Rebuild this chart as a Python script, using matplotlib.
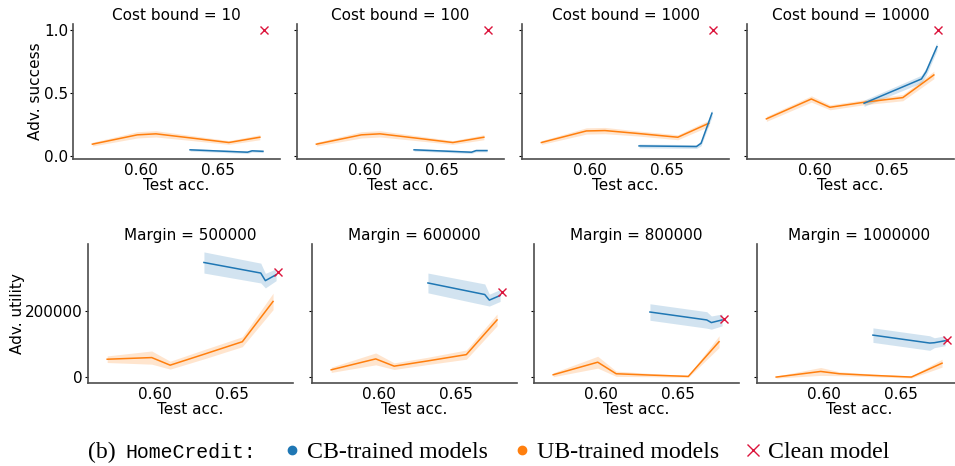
import numpy as np
import matplotlib
matplotlib.use("Agg")
import matplotlib.pyplot as plt
from matplotlib.lines import Line2D

# test accuracy of the models (x axis)
acc_ub = [0.569, 0.598, 0.610, 0.632, 0.657, 0.677]
acc_cb = [0.632, 0.669, 0.672, 0.679]
acc_clean = 0.680

# top row: adversarial success per cost bound
cost_bounds = [10, 100, 1000, 10000]
succ_ub = [[0.093, 0.167, 0.175, 0.143, 0.106, 0.148],
           [0.093, 0.167, 0.175, 0.143, 0.106, 0.148],
           [0.106, 0.198, 0.201, 0.177, 0.148, 0.259],
           [0.294, 0.452, 0.386, 0.426, 0.463, 0.643]]
succ_ub_err = [[0.015, 0.025, 0.025, 0.02, 0.015, 0.02],
               [0.015, 0.025, 0.025, 0.02, 0.015, 0.02],
               [0.015, 0.025, 0.025, 0.02, 0.02, 0.025],
               [0.02, 0.025, 0.02, 0.02, 0.025, 0.03]]
succ_cb = [[0.048, 0.029, 0.040, 0.036],
           [0.048, 0.029, 0.042, 0.042],
           [0.079, 0.074, 0.100, 0.339],
           [0.418, 0.611, 0.669, 0.868]]
succ_cb_err = [[0.01, 0.01, 0.01, 0.01],
               [0.01, 0.01, 0.01, 0.01],
               [0.015, 0.015, 0.02, 0.03],
               [0.025, 0.03, 0.03, 0.03]]
succ_clean = [1.0, 1.0, 1.0, 1.0]

# bottom row: adversarial utility per margin
margins = [500000, 600000, 800000, 1000000]
util_ub = [[54000, 59000, 36000, 69000, 107000, 229000],
           [22000, 55000, 33000, 49000, 68000, 173000],
           [7000, 45000, 10000, 6000, 2000, 107000],
           [0, 17000, 10000, 5000, 0, 42000]]
util_ub_err = [[10000, 20000, 12000, 14000, 15000, 25000],
               [8000, 18000, 10000, 11000, 14000, 18000],
               [6000, 18000, 8000, 5000, 3000, 18000],
               [3000, 12000, 6000, 4000, 3000, 12000]]
util_cb = [[347000, 315000, 292000, 310000],
           [285000, 250000, 233000, 247000],
           [197000, 173000, 165000, 173000],
           [127000, 103000, 104000, 110000]]
util_cb_err = [[32000, 30000, 22000, 18000],
               [30000, 32000, 18000, 18000],
               [25000, 25000, 20000, 18000],
               [22000, 22000, 15000, 15000]]
util_clean = [319000, 257000, 177000, 112000]

blue = '#1f77b4'
orange = '#ff7f0e'
red = '#dc143c'

plt.rcParams['font.family'] = 'DejaVu Sans'
plt.rcParams['font.size'] = 11

fig = plt.figure(figsize=(9.55, 4.66), dpi=100)


def draw(ax, ub, ub_err, cb, cb_err, clean):
    ub = np.array(ub); ub_err = np.array(ub_err)
    cb = np.array(cb); cb_err = np.array(cb_err)
    ax.fill_between(acc_ub, ub - ub_err, ub + ub_err, color=orange, alpha=0.2, lw=0)
    ax.plot(acc_ub, ub, color=orange, lw=1.1)
    ax.fill_between(acc_cb, cb - cb_err, cb + cb_err, color=blue, alpha=0.2, lw=0)
    ax.plot(acc_cb, cb, color=blue, lw=1.1)
    ax.plot([acc_clean], [clean], 'x', color=red, ms=5.5, mew=1.0)
    for s in ['top', 'right']:
        ax.spines[s].set_visible(False)
    for s in ['left', 'bottom']:
        ax.spines[s].set_color('0.3')
        ax.spines[s].set_linewidth(1.2)
    ax.set_xlim(0.5565, 0.690)
    ax.set_xticks([0.60, 0.65])
    ax.set_xticklabels(['0.60', '0.65'])
    ax.tick_params(axis='x', length=0, pad=3, labelsize=11)
    ax.tick_params(axis='y', length=2, width=0.8, pad=1.6, labelsize=11)
    ax.set_xlabel('Test acc.', fontsize=11, labelpad=0)


top_lefts = [73, 297, 522, 747]
bot_lefts = [88, 312, 534, 757]

for i in range(4):
    ax = fig.add_axes([top_lefts[i] / 955, 1 - 159 / 466, 207 / 955, 135 / 466])
    draw(ax, succ_ub[i], succ_ub_err[i], succ_cb[i], succ_cb_err[i], succ_clean[i])
    ax.set_ylim(-0.025, 1.048)
    ax.set_yticks([0.0, 0.5, 1.0])
    ax.set_title(f'Cost bound = {cost_bounds[i]}', fontsize=11, pad=3)
    if i == 0:
        ax.set_yticklabels(['0.0', '0.5', '1.0'])
        ax.set_ylabel('Adv. success', fontsize=11, labelpad=0.5)
    else:
        ax.set_yticklabels([])

for i in range(4):
    ax = fig.add_axes([bot_lefts[i] / 955, 1 - 383 / 466, 205 / 955, 139 / 466])
    draw(ax, util_ub[i], util_ub_err[i], util_cb[i], util_cb_err[i], util_clean[i])
    ax.set_ylim(-18000, 403000)
    ax.set_yticks([0, 200000])
    ax.set_title(f'Margin = {margins[i]}', fontsize=11, pad=3)
    if i == 0:
        ax.set_yticklabels(['0', '200000'])
        ax.set_ylabel('Adv. utility', fontsize=11, labelpad=0.5)
    else:
        ax.set_yticklabels([])

# caption-style legend
fig.text(88 / 955, 1 - 452 / 466, '(b)', family='Liberation Serif', fontsize=17, va='center')
fig.text(125 / 955, 1 - 452 / 466, 'HomeCredit:', family='Liberation Mono', fontsize=14.3, va='center')
handles = [Line2D([], [], ls='', marker='o', color=blue, ms=6),
           Line2D([], [], ls='', marker='o', color=orange, ms=6),
           Line2D([], [], ls='', marker='x', color=red, ms=8, mew=1.0)]
labels = ['CB-trained models', 'UB-trained models', 'Clean model']
fig.legend(handles, labels, loc='center', bbox_to_anchor=(587 / 955, 1 - 452 / 466),
           ncol=3, frameon=False, prop={'family': 'Liberation Serif', 'size': 17.2},
           handlelength=0.6, handletextpad=0.35, columnspacing=1.1, borderpad=0, borderaxespad=0)

fig.savefig('out.png', dpi=100)
